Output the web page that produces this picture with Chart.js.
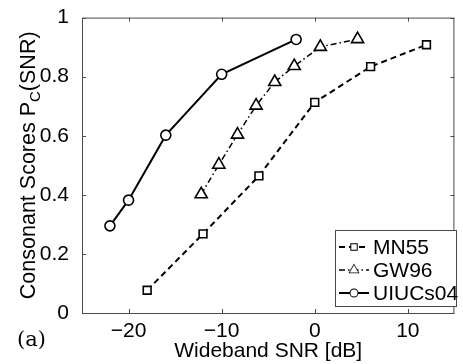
<!DOCTYPE html>
<html>
<head>
<meta charset="utf-8">
<script src="https://cdn.jsdelivr.net/npm/chart.js@4.4.1/dist/chart.umd.min.js"></script>
<style>
  html, body { margin: 0; padding: 0; background: #fff; }
  #wrap { width: 463px; height: 364px; }
</style>
</head>
<body>
<div id="wrap"><canvas id="snrChart" width="463" height="364"></canvas></div>
<script>
// data
var mn55Snr = [-18, -12, -6, 0, 6, 12];
var mn55Pc = [0.077, 0.268, 0.464, 0.713, 0.834, 0.908];
var gw96Snr = [-12.2, -10.3, -8.3, -6.3, -4.3, -2.2, 0.6, 4.6];
var gw96Pc = [0.402, 0.502, 0.604, 0.702, 0.782, 0.836, 0.901, 0.927];
var uiucSnr = [-22, -20, -16, -10, -2];
var uiucPc = [0.295, 0.382, 0.602, 0.808, 0.926];
var seriesNames = ['MN55', 'GW96', 'UIUCs04'];
var xTickValues = [-20, -10, 0, 10];
var yTickValues = [0, 0.2, 0.4, 0.6, 0.8, 1];

function toPoints(xs, ys) {
    return xs.map(function(x, i) { return { x: x, y: ys[i] }; });
}

var FONT = "'Liberation Sans', Arial, sans-serif";
var FRAME = '#4a4a4a';

// frame, inward ticks, y title, (a) label and legend box
var decorPlugin = {
    id: 'decor',
    afterDatasetsDraw: function(chart) {
        var ctx = chart.ctx;
        var a = chart.chartArea;
        var xs = chart.scales.x, ys = chart.scales.y;
        ctx.save();
        ctx.strokeStyle = FRAME;
        ctx.lineWidth = 1;
        ctx.strokeRect(a.left + 0.5, a.top + 0.5, a.right - a.left - 1, a.bottom - a.top);
        ctx.beginPath();
        xTickValues.forEach(function(v) {
            var px = Math.round(xs.getPixelForValue(v)) + 0.5;
            ctx.moveTo(px, a.bottom); ctx.lineTo(px, a.bottom - 4);
            ctx.moveTo(px, a.top); ctx.lineTo(px, a.top + 4);
        });
        yTickValues.forEach(function(v) {
            var py = Math.round(ys.getPixelForValue(v)) + 0.5;
            ctx.moveTo(a.left, py); ctx.lineTo(a.left + 4, py);
            ctx.moveTo(a.right, py); ctx.lineTo(a.right - 4, py);
        });
        ctx.stroke();

        // y axis title with subscript
        ctx.fillStyle = '#000';
        ctx.translate(35, (a.top + a.bottom) / 2);
        ctx.rotate(-Math.PI / 2);
        var part1 = 'Consonant Scores P', sub = 'C', part2 = '(SNR)';
        ctx.font = '21.5px ' + FONT;
        var w1 = ctx.measureText(part1).width;
        var w3 = ctx.measureText(part2).width;
        ctx.font = '15px ' + FONT;
        var w2 = ctx.measureText(sub).width;
        var start = -(w1 + w2 + w3) / 2;
        ctx.textBaseline = 'alphabetic';
        ctx.textAlign = 'left';
        ctx.font = '21.5px ' + FONT;
        ctx.fillText(part1, start, 0);
        ctx.font = '15px ' + FONT;
        ctx.fillText(sub, start + w1, 5);
        ctx.font = '21.5px ' + FONT;
        ctx.fillText(part2, start + w1 + w2, 0);
        ctx.setTransform(1, 0, 0, 1, 0, 0);

        // panel label
        ctx.font = "21px 'DejaVu Serif', 'Liberation Serif', serif";
        ctx.fillText('(a)', 17, 346);

        // legend
        var bx = 335.5, by = 230.5, bw = 121, bh = 76;
        ctx.fillStyle = '#fff';
        ctx.fillRect(bx, by, bw, bh);
        ctx.strokeStyle = FRAME;
        ctx.strokeRect(bx, by, bw, bh);
        var rowsY = [247, 270, 293];
        chart.data.datasets.forEach(function(ds, i) {
            var y = rowsY[i];
            ctx.strokeStyle = ds.borderColor;
            ctx.lineWidth = ds.borderWidth;
            ctx.setLineDash(ds.borderDash || []);
            ctx.beginPath();
            ctx.moveTo(339, y); ctx.lineTo(369, y);
            ctx.stroke();
            ctx.setLineDash([]);
            Chart.helpers.drawPoint(ctx, {
                pointStyle: ds.pointStyle,
                radius: ds.pointRadius * 0.7,
                borderWidth: 1.5,
                rotation: 0
            }, 354, y);
            ctx.fillStyle = '#fff';
            ctx.strokeStyle = '#000';
            ctx.fill();
            ctx.fillStyle = '#000';
            ctx.font = '21px ' + FONT;
            ctx.textBaseline = 'middle';
            ctx.fillText(ds.label, 373, y + 1);
        });
        ctx.restore();
    }
};

var ctx = document.getElementById('snrChart').getContext('2d');
new Chart(ctx, {
    type: 'line',
    data: {
        datasets: [{
            label: seriesNames[0],
            data: toPoints(mn55Snr, mn55Pc),
            borderColor: '#000',
            borderWidth: 2,
            borderDash: [6, 4],
            pointStyle: 'rect',
            pointRadius: 5.5,
            pointBorderWidth: 1.6,
            pointBackgroundColor: '#fff',
            pointBorderColor: '#000'
        }, {
            label: seriesNames[1],
            data: toPoints(gw96Snr, gw96Pc),
            borderColor: '#000',
            borderWidth: 1.5,
            borderDash: [6, 3, 1.5, 3],
            pointStyle: 'triangle',
            pointRadius: 7,
            pointBorderWidth: 1.6,
            pointBackgroundColor: '#fff',
            pointBorderColor: '#000'
        }, {
            label: seriesNames[2],
            data: toPoints(uiucSnr, uiucPc),
            borderColor: '#000',
            borderWidth: 2,
            pointStyle: 'circle',
            pointRadius: 5,
            pointBorderWidth: 1.6,
            pointBackgroundColor: '#fff',
            pointBorderColor: '#000'
        }]
    },
    options: {
        responsive: false,
        animation: false,
        events: [],
        layout: { padding: { top: 13, right: 1, left: 0, bottom: 0 } },
        plugins: {
            legend: { display: false },
            tooltip: { enabled: false }
        },
        scales: {
            x: {
                type: 'linear',
                min: -25,
                max: 15,
                afterBuildTicks: function(scale) {
                    scale.ticks = xTickValues.map(function(v) { return { value: v }; });
                },
                afterFit: function(scale) { scale.height = 51; },
                grid: { display: false },
                border: { display: false },
                ticks: {
                    color: '#000',
                    font: { family: FONT, size: 21 },
                    padding: -2,
                    maxRotation: 0,
                    callback: function(v) { return v < 0 ? '\u2212' + Math.abs(v) : String(v); }
                },
                title: {
                    display: true,
                    text: 'Wideband SNR [dB]',
                    color: '#000',
                    font: { family: FONT, size: 21 },
                    padding: { top: -8, bottom: 0 }
                }
            },
            y: {
                type: 'linear',
                min: 0,
                max: 1,
                afterBuildTicks: function(scale) {
                    scale.ticks = yTickValues.map(function(v) { return { value: v }; });
                },
                afterFit: function(scale) { scale.width = 82; },
                grid: { display: false },
                border: { display: false },
                ticks: {
                    color: '#000',
                    font: { family: FONT, size: 21 },
                    padding: 5,
                    callback: function(v) { return String(Number(v)); }
                }
            }
        }
    },
    plugins: [decorPlugin]
});
</script>
</body>
</html>
